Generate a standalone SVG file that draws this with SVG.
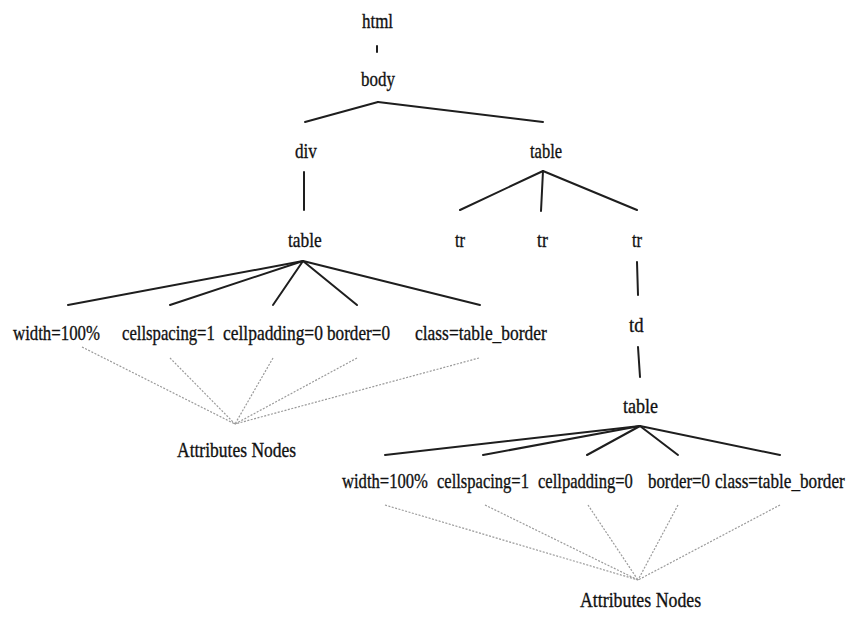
<svg xmlns="http://www.w3.org/2000/svg" width="854" height="635" viewBox="0 0 854 635">
<style>
text{font-family:"Liberation Serif","Times New Roman",serif;font-size:22px;fill:#111;stroke:#111;stroke-width:0.35}
.e{stroke:#1e1e1e;stroke-width:2;fill:none;stroke-linecap:round}
.d{stroke:#9a9a9a;stroke-width:1.2;stroke-dasharray:2 1.5;fill:none}
</style>
<rect width="854" height="635" fill="#fff"/>
<g id="connectors">
<line class="e" x1="377" y1="46" x2="377" y2="52" stroke-width="1.2"/>
<line class="e" x1="378" y1="102" x2="305" y2="122"/>
<line class="e" x1="378" y1="102" x2="543" y2="122"/>
<line class="e" x1="304" y1="172" x2="304" y2="210"/>
<line class="e" x1="543" y1="171" x2="460" y2="210"/>
<line class="e" x1="543" y1="171" x2="541" y2="211"/>
<line class="e" x1="543" y1="171" x2="637" y2="210"/>
<line class="e" x1="637" y1="262" x2="638" y2="295"/>
<line class="e" x1="638" y1="347" x2="640" y2="377"/>
<line class="e" x1="303" y1="261" x2="68" y2="305"/>
<line class="e" x1="303" y1="261" x2="170" y2="305"/>
<line class="e" x1="303" y1="261" x2="273" y2="305"/>
<line class="e" x1="303" y1="261" x2="357" y2="305"/>
<line class="e" x1="303" y1="261" x2="480" y2="305"/>
<line class="e" x1="640" y1="426" x2="385" y2="455"/>
<line class="e" x1="640" y1="426" x2="483" y2="455"/>
<line class="e" x1="640" y1="426" x2="587" y2="455"/>
<line class="e" x1="640" y1="426" x2="678" y2="455"/>
<line class="e" x1="640" y1="426" x2="780" y2="455"/>
<line class="d" x1="82" y1="347" x2="235" y2="424"/>
<line class="d" x1="170" y1="358" x2="235" y2="424"/>
<line class="d" x1="273" y1="358" x2="235" y2="424"/>
<line class="d" x1="357" y1="358" x2="235" y2="424"/>
<line class="d" x1="479" y1="358" x2="235" y2="424"/>
<line class="d" x1="385" y1="505" x2="638" y2="580"/>
<line class="d" x1="485" y1="505" x2="638" y2="580"/>
<line class="d" x1="588" y1="505" x2="638" y2="580"/>
<line class="d" x1="678" y1="505" x2="638" y2="580"/>
<line class="d" x1="780" y1="505" x2="638" y2="580"/>
</g>
<g id="html"><text transform="translate(362,28) scale(0.77,1)">html</text></g>
<g id="body"><text transform="translate(361,86) scale(0.77,1)">body</text></g>
<g id="div"><text transform="translate(295,158) scale(0.78,1)">div</text></g>
<g id="table-right"><text transform="translate(530,158) scale(0.75,1)">table</text></g>
<g id="table-left"><text transform="translate(288,247) scale(0.79,1)">table</text></g>
<g id="tr1"><text transform="translate(455,247) scale(0.75,1)">tr</text></g>
<g id="tr2"><text transform="translate(537,247) scale(0.8,1)">tr</text></g>
<g id="tr3"><text transform="translate(632,247) scale(0.75,1)">tr</text></g>
<g id="td"><text transform="translate(629,332) scale(0.85,1)">td</text></g>
<g id="table-inner"><text transform="translate(623,413) scale(0.82,1)">table</text></g>
<g id="attrs1">
<text transform="translate(13,340) scale(0.764,1)">width=100%</text>
<text transform="translate(122,340) scale(0.76,1)">cellspacing=1</text>
<text transform="translate(223,340) scale(0.793,1)">cellpadding=0</text>
<text transform="translate(327,340) scale(0.78,1)">border=0</text>
<text transform="translate(415,340) scale(0.793,1)">class=table_border</text>
</g>
<g id="attrs2">
<text transform="translate(342,488) scale(0.755,1)">width=100%</text>
<text transform="translate(437,488) scale(0.752,1)">cellspacing=1</text>
<text transform="translate(538,488) scale(0.753,1)">cellpadding=0</text>
<text transform="translate(648,488) scale(0.767,1)">border=0</text>
<text transform="translate(715,488) scale(0.781,1)">class=table_border</text>
</g>
<g id="attributes-nodes-1"><text transform="translate(177,457) scale(0.796,1)">Attributes Nodes</text></g>
<g id="attributes-nodes-2"><text transform="translate(580,607) scale(0.81,1)">Attributes Nodes</text></g>
</svg>
